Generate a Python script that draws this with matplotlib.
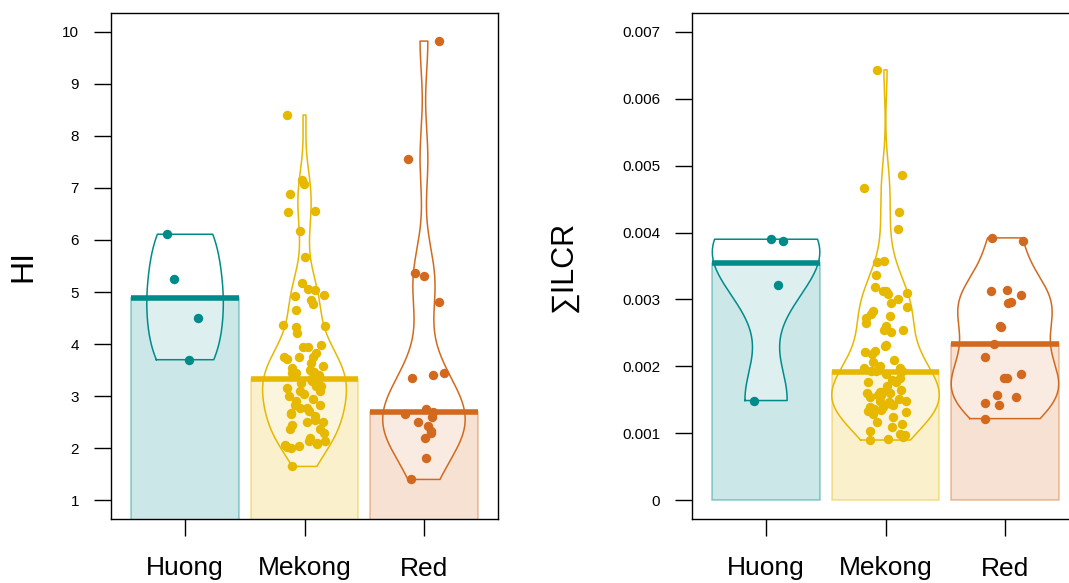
import numpy as np
import matplotlib
matplotlib.use("Agg")
import matplotlib.pyplot as plt
from matplotlib.colors import to_rgba

plt.rcParams['font.family'] = ['Liberation Sans', 'DejaVu Sans']

groups = ['Huong', 'Mekong', 'Red']
colors = ['#008B8B', '#E6B800', '#D2691E']

# HI values per river
hi_huong = [6.11, 5.25, 4.51, 3.70]
hi_mekong = [8.40, 7.15, 7.07, 6.88, 6.56, 6.53, 6.18, 5.68,
             5.17, 5.06, 5.03, 4.95, 4.93, 4.84, 4.77, 4.66, 4.37, 4.35,
             4.33, 4.22, 3.99, 3.94, 3.94, 3.83, 3.75, 3.75, 3.75, 3.71,
             3.64, 3.57, 3.54, 3.51, 3.44, 3.43, 3.47, 3.44, 3.41,
             3.33, 3.30, 3.25, 3.25, 3.20, 3.19, 3.15, 3.09, 3.09, 3.05,
             3.00, 2.95, 2.90, 2.83, 2.83, 2.77, 2.77, 2.71, 2.68, 2.65,
             2.61, 2.55, 2.51, 2.51, 2.45, 2.37, 2.37, 2.30, 2.20, 2.13,
             2.13, 2.10, 2.08, 2.07, 2.05, 2.02, 2.00, 1.65]
hi_red = [9.82, 7.56, 5.37, 5.31, 4.80, 3.44, 3.40, 3.34, 2.76, 2.70,
          2.66, 2.59, 2.50, 2.43, 2.34, 2.29, 2.19, 1.82, 1.40]

# sum ILCR per river (x 1e-3)
ilcr_huong = [3.90, 3.87, 3.21, 1.49]
ilcr_mekong = [6.43, 4.86, 4.66, 4.31, 4.05, 3.58, 3.56, 3.36, 3.19, 3.12, 3.12,
               3.08, 3.09, 3.01, 2.94, 2.88, 2.83, 2.78, 2.75, 2.72, 2.65, 2.60,
               2.54, 2.54, 2.51, 2.32, 2.31, 2.23, 2.21, 2.18, 2.10, 2.06, 2.01,
               1.98, 1.97, 1.93, 1.93, 1.93,
               1.89, 1.83, 1.80, 1.76, 1.76, 1.70, 1.65, 1.64, 1.62, 1.61,
               1.60, 1.58, 1.57, 1.55, 1.52, 1.49, 1.49, 1.47, 1.45, 1.44,
               1.42, 1.40, 1.39, 1.37, 1.35, 1.34, 1.32, 1.29, 1.25, 1.17,
               1.14, 1.09, 1.04, 0.99, 0.98, 0.94, 0.92, 0.90]
ilcr_red = [3.92, 3.88, 3.14, 3.13, 3.06, 2.96, 2.95, 2.60, 2.59, 2.34,
            2.14, 1.88, 1.83, 1.82, 1.58, 1.55, 1.46, 1.43, 1.22]

hi_ticks = list(range(1, 11))
ilcr_ticks = [0, 0.001, 0.002, 0.003, 0.004, 0.005, 0.006, 0.007]
ilcr_ticklabels = ['0', '0.001', '0.002', '0.003', '0.004', '0.005', '0.006', '0.007']


def bw_nrd0(x):
    sd = np.std(x, ddof=1)
    q75, q25 = np.percentile(x, [75, 25])
    lo = min(sd, (q75 - q25) / 1.34)
    if lo == 0:
        lo = sd
    return 0.9 * lo * len(x) ** -0.2


def bean(x):
    bw = bw_nrd0(x)
    grid = np.linspace(x.min(), x.max(), 512)
    d = np.exp(-0.5 * ((grid[:, None] - x[None, :]) / bw) ** 2).sum(axis=1)
    d = d / (len(x) * bw * np.sqrt(2 * np.pi))
    if d.max() > 0.45:
        d = d / d.max() * 0.45
    if d.max() < 0.3:
        d = d / d.max() * 0.3
    return grid, d


def pirate(ax, data, seed):
    rng = np.random.default_rng(seed)
    for i, (vals, col) in enumerate(zip(data, colors)):
        pos = i + 1
        vals = np.asarray(vals, dtype=float)
        med = np.median(vals)
        ax.bar(pos, med, width=0.9, facecolor=to_rgba(col, 0.2),
               edgecolor=to_rgba(col, 0.4), linewidth=1.2, zorder=1)
        g, d = bean(vals)
        ax.fill_betweenx(g, pos - d, pos + d, color='white', alpha=0.35,
                         linewidth=0, zorder=2)
        xs = np.concatenate([pos - d, (pos + d)[::-1], [pos - d[0]]])
        ys = np.concatenate([g, g[::-1], [g[0]]])
        ax.plot(xs, ys, color=col, lw=1.1, zorder=3)
        jit = rng.uniform(-0.18, 0.18, len(vals))
        ax.scatter(pos + jit, vals, s=46, color=col, linewidths=0, zorder=4)
        ax.plot([pos - 0.45, pos + 0.45], [med, med], color=col, lw=4,
                solid_capstyle='butt', zorder=5)
    ax.set_xlim(0.38, 3.62)
    ax.set_xticks([1, 2, 3])
    ax.set_xticklabels(groups, fontsize=19)
    ax.tick_params(axis='x', length=12, width=1, pad=15)
    ax.tick_params(axis='y', length=12, width=1, pad=11, labelsize=11)
    for sp in ax.spines.values():
        sp.set_linewidth(1.0)


fig = plt.figure(figsize=(10.69, 5.83), dpi=100)
ax1 = fig.add_axes([111 / 1069, 64 / 583, 387 / 1069, 506 / 583])
ax2 = fig.add_axes([692 / 1069, 64 / 583, 387 / 1069, 506 / 583])

pirate(ax1, [hi_huong, hi_mekong, hi_red], 3)
ax1.set_ylim(0.64, 10.36)
ax1.set_yticks(hi_ticks)

scale = 1e-3
pirate(ax2, [np.array(ilcr_huong) * scale, np.array(ilcr_mekong) * scale,
             np.array(ilcr_red) * scale], 7)
ax2.set_ylim(-0.00028, 0.00728)
ax2.set_yticks(ilcr_ticks)
ax2.set_yticklabels(ilcr_ticklabels)

fig.text(23 / 1069, 1 - 266 / 583, 'HI', rotation=90, ha='center', va='center', fontsize=23)
fig.text(564 / 1069, 1 - 266 / 583, '\u2211ILCR', rotation=90, ha='center', va='center', fontsize=22)

fig.savefig('out.png', dpi=100)
